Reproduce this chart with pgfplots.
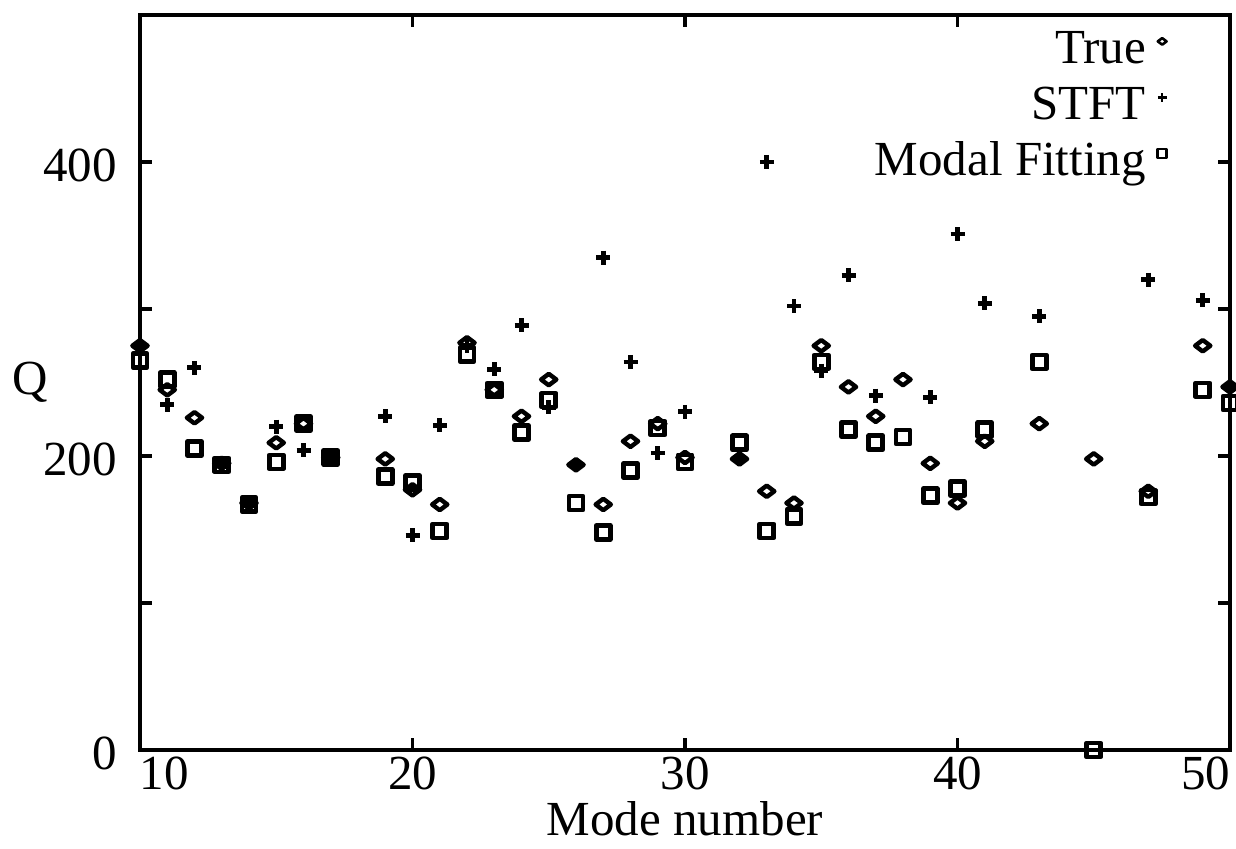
\documentclass[border=0pt]{standalone}
\usepackage{fontspec}
\setmainfont{Liberation Serif}
\usepackage{pgfplots}
\pgfplotsset{compat=1.18}
\pgfplotstableread{
m q
10 275
11 245
12 226
13 195
14 168
15 209
16 222
17 199
19 198
20 177
21 167
22 277
23 245
24 227
25 252
26 194
27 167
28 210
29 222
30 199
32 198
33 176
34 168
35 275
36 247
37 227
38 252
39 195
40 168
41 210
43 222
45 198
47 176
49 275
50 247
}\truedata
\pgfplotstableread{
m q
10 275
11 235
12 260
13 195
14 168
15 220
16 204
17 199
19 227
20 146
21 221
22 275
23 259
24 289
25 233
26 194
27 335
28 264
29 202
30 230
32 198
33 400
34 302
35 258
36 323
37 241
39 240
40 351
41 304
43 295
47 320
49 306
50 247
}\stftdata
\pgfplotstableread{
m q
10 265
11 252
12 205
13 194
14 167
15 196
16 222
17 199
19 186
20 182
21 149
22 269
23 245
24 216
25 238
26 168
27 148
28 190
29 219
30 196
32 209
33 149
34 159
35 264
36 218
37 209
38 213
39 173
40 178
41 218
43 264
45 0
47 172
49 245
50 236
}\modaldata
\begin{document}
\fontsize{24.5}{29}\selectfont
\begin{tikzpicture}
\begin{axis}[
  width=545pt, height=367.5pt, scale only axis,
  xmin=10, xmax=50, ymin=0, ymax=500,
  xtick={10,20,30,40,50},
  xticklabels={\rlap{10},20,30,40,\llap{50}},
  ytick={0,100,200,300,400,500},
  yticklabels={0,,200,,400,},
  tick align=inside,
  major tick length=6pt,
  every tick/.style={black, line width=1.8pt},
  axis line style={line width=2.3pt},
  /pgf/number format/assume math mode=true,
  xticklabel style={inner sep=0pt, anchor=north, yshift=-3.5pt},
  yticklabel style={inner sep=0pt, anchor=east, xshift=-11.5pt, yshift=-1.5pt},
  every axis x label/.style={at={(axis description cs:0.5,0)}, anchor=base, yshift=-43pt},
  every axis y label/.style={at={(axis description cs:0,0.5)}, anchor=center, xshift=-55pt},
  xlabel={Mode number},
  ylabel={Q},
  legend cell align=right,
  legend plot pos=right,
  legend style={draw=none, fill=none, at={(1,1)}, anchor=north east,
    xshift=-28.5pt, yshift=-5pt, row sep=6pt, column sep=6pt,
    nodes={inner sep=0pt, text height=17pt, text depth=5pt}},
  legend image code/.code={\draw[#1, line width=1.3pt, mark size=2.2pt, mark options={rotate=90, line width=1.3pt, line join=round}] plot coordinates {(3pt,5pt)};},
]
\addplot[only marks, black, line width=2.2pt, mark=diamond, mark size=3.8pt,
  mark options={rotate=90, line width=2.2pt, line join=round}] table[x=m,y=q] {\truedata};
\addlegendentry{True}
\addplot[only marks, black, line width=2.4pt, mark=+, mark size=3.5pt,
  mark options={line width=2.4pt}] table[x=m,y=q] {\stftdata};
\addlegendentry{STFT}
\addplot[only marks, black, line width=2.3pt, mark=square, mark size=3.5pt,
  mark options={line width=2.3pt, line join=round}] table[x=m,y=q] {\modaldata};
\addlegendentry{Modal Fitting}
\end{axis}
\pgfresetboundingbox
\path[use as bounding box] ([xshift=-70pt,yshift=-49.5pt]current axis.south west) rectangle ([xshift=3pt,yshift=7.5pt]current axis.north east);
\end{tikzpicture}
\end{document}
